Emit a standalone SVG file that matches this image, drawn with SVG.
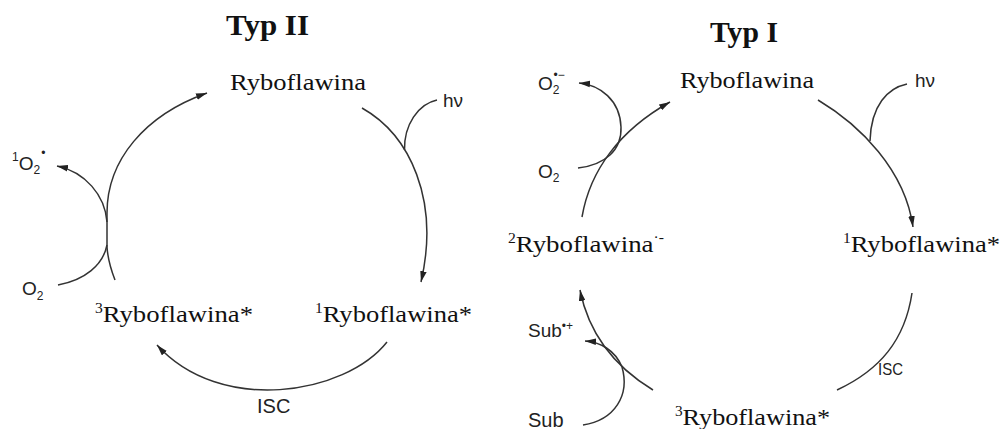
<svg xmlns="http://www.w3.org/2000/svg" width="1002" height="429" viewBox="0 0 1002 429">
<style>
.title{font-weight:bold;font-size:29px;fill:#111}
.node{font-size:24px;fill:#111}
.sup{font-size:14px}
.lab{font-size:19px;fill:#222}
.sm{font-size:12px}
.conn{fill:none;stroke:#333;stroke-width:1.5}
</style>
<defs>
<marker id="arr" viewBox="0 0 10 6" refX="10" refY="3" markerWidth="11" markerHeight="7" orient="auto" markerUnits="userSpaceOnUse">
<path d="M0,0 L10,3 L0,6 z" fill="#222"/>
</marker>
</defs>
<rect width="1002" height="429" fill="#fff"/>

<g font-family="'Liberation Serif', serif">
<g id="typ2-title"><text class="title" x="226" y="35" textLength="83" lengthAdjust="spacingAndGlyphs">Typ II</text></g>
<g id="typ2-ryboflawina"><text class="node" x="230" y="90" textLength="136" lengthAdjust="spacingAndGlyphs">Ryboflawina</text></g>
<g id="typ2-r1"><text class="node" x="315" y="322" textLength="157" lengthAdjust="spacingAndGlyphs"><tspan class="sup" dy="-9">1</tspan><tspan dy="9">Ryboflawina*</tspan></text></g>
<g id="typ2-r3"><text class="node" x="95" y="322" textLength="158" lengthAdjust="spacingAndGlyphs"><tspan class="sup" dy="-9">3</tspan><tspan dy="9">Ryboflawina*</tspan></text></g>
<g id="typ1-title"><text class="title" x="710" y="42" textLength="68" lengthAdjust="spacingAndGlyphs">Typ I</text></g>
<g id="typ1-ryboflawina"><text class="node" x="680" y="88" textLength="134" lengthAdjust="spacingAndGlyphs">Ryboflawina</text></g>
<g id="typ1-r1"><text class="node" x="843" y="252" textLength="157" lengthAdjust="spacingAndGlyphs"><tspan class="sup" dy="-9">1</tspan><tspan dy="9">Ryboflawina*</tspan></text></g>
<g id="typ1-r2"><text class="node" x="508" y="252" textLength="156" lengthAdjust="spacingAndGlyphs"><tspan class="sup" dy="-9">2</tspan><tspan dy="9">Ryboflawina</tspan><tspan class="sup" dy="-10">·-</tspan></text></g>
<g id="typ1-r3"><text class="node" x="675" y="425" textLength="155" lengthAdjust="spacingAndGlyphs"><tspan class="sup" dy="-9">3</tspan><tspan dy="9">Ryboflawina*</tspan></text></g>
</g>

<g font-family="'Liberation Sans', sans-serif">
<g id="typ2-hv"><text class="lab" x="443" y="107">hν</text></g>
<g id="typ2-isc"><text class="lab" x="257" y="413" style="font-size:20px">ISC</text></g>
<g id="typ2-o2"><text class="lab" x="22" y="295">O<tspan class="sm" dy="5">2</tspan></text></g>
<g id="typ2-1o2"><text class="lab" x="12" y="170"><tspan class="sm" dy="-9">1</tspan><tspan dy="9">O</tspan><tspan class="sm" dy="4">2</tspan><tspan class="sm" dx="1" dy="-17">•</tspan></text></g>
<g id="typ1-hv"><text class="lab" x="915" y="87">hν</text></g>
<g id="typ1-isc"><text class="lab" x="878" y="375" textLength="25" lengthAdjust="spacingAndGlyphs" style="font-size:17px">ISC</text></g>
<g id="typ1-o2"><text class="lab" x="538" y="178">O<tspan class="sm" dy="4">2</tspan></text></g>
<g id="typ1-o2rad"><text class="lab" x="538" y="90">O<tspan class="sm" dy="4">2</tspan><tspan class="sm" dx="-6" dy="-15">•−</tspan></text></g>
<g id="typ1-sub"><text class="lab" x="528" y="427" style="font-size:20px">Sub</text></g>
<g id="typ1-subrad"><text class="lab" x="528" y="337">Sub<tspan class="sm" dy="-7">•+</tspan></text></g>
</g>

<g id="connectors">
<path class="conn" d="M115,280 Q108,262 107,247 L107,213 C107,160 145,115 207,93" marker-end="url(#arr)"/>
<path class="conn" d="M107,222 C105,195 85,172 57,166" marker-end="url(#arr)"/>
<path class="conn" d="M58,285 C85,280 103,265 107,245"/>
<path class="conn" d="M362,108 C410,135 440,200 421,282" marker-end="url(#arr)"/>
<path class="conn" d="M437,100 C418,104 404,125 404.5,150"/>
<path class="conn" d="M387,342 C345,395 220,415 157,345" marker-end="url(#arr)"/>
<path class="conn" d="M582,217 C590,170 620,130 670,102" marker-end="url(#arr)"/>
<path class="conn" d="M578,168 C605,165 622,150 621,127 C620,100 600,85 579,83" marker-end="url(#arr)"/>
<path class="conn" d="M818,100 C860,125 905,170 913,227" marker-end="url(#arr)"/>
<path class="conn" d="M907,84 C888,88 871,105 870,141"/>
<path class="conn" d="M912,293 C905,340 880,370 837,390"/>
<path class="conn" d="M653,390 C620,370 590,340 580,290" marker-end="url(#arr)"/>
<path class="conn" d="M583,425 C615,420 630,395 622,367 C615,350 600,342 585,341" marker-end="url(#arr)"/>
</g>
</svg>
